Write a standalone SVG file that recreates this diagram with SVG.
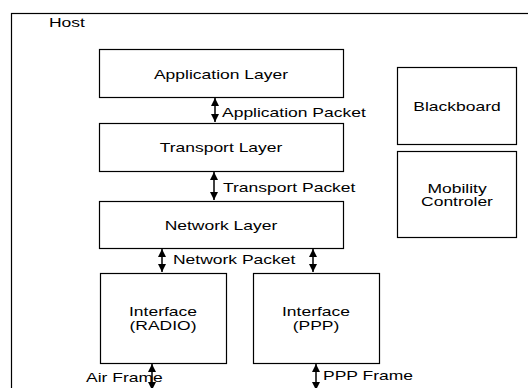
<svg xmlns="http://www.w3.org/2000/svg" width="528" height="388" viewBox="0 0 528 388">
<style>
.box{fill:#fff;stroke:#000;stroke-width:1.2}
.t{font-family:"Liberation Sans",Arial,sans-serif;font-size:12.5px;fill:#000}
.c{text-anchor:middle}
.conn{stroke:#000;stroke-width:1.5;fill:none;marker-start:url(#ah);marker-end:url(#ah)}
</style>
<defs>
<marker id="ah" viewBox="0 0 8 8" refX="8" refY="4" markerWidth="8" markerHeight="8" markerUnits="userSpaceOnUse" orient="auto-start-reverse">
<path d="M0,0 L8,4 L0,8 z" fill="#000"/>
</marker>
</defs>
<rect width="528" height="388" fill="#fff"/>
<g id="host">
<rect x="11.5" y="13.5" width="530" height="400" fill="none" stroke="#000" stroke-width="1.2"/>
<text class="t" transform="translate(49 27) scale(1.4 1)">Host</text>
</g>
<g id="connectors">
<line class="conn" x1="215" y1="98" x2="215" y2="122"/>
<line class="conn" x1="214" y1="172" x2="214" y2="200"/>
<line class="conn" x1="162" y1="249" x2="162" y2="272"/>
<line class="conn" x1="313" y1="249" x2="313" y2="272"/>
<line class="conn" x1="152" y1="364" x2="152" y2="390"/>
<line class="conn" x1="316" y1="364" x2="316" y2="390"/>
<text class="t" transform="translate(222 117) scale(1.4 1)">Application Packet</text>
<text class="t" transform="translate(223 192) scale(1.4 1)">Transport Packet</text>
<text class="t" transform="translate(173 264) scale(1.4 1)">Network Packet</text>
<text class="t" transform="translate(86 382) scale(1.4 1)">Air Frame</text>
<text class="t" transform="translate(323 380) scale(1.4 1)">PPP Frame</text>
</g>
<g id="application">
<rect class="box" x="99.5" y="49.5" width="244" height="48"/>
<text class="t c" transform="translate(221 79) scale(1.4 1)">Application Layer</text>
</g>
<g id="transport">
<rect class="box" x="99.5" y="123.5" width="244" height="48"/>
<text class="t c" transform="translate(221 152) scale(1.4 1)">Transport Layer</text>
</g>
<g id="network">
<rect class="box" x="99.5" y="201.5" width="244" height="47"/>
<text class="t c" transform="translate(221 230) scale(1.4 1)">Network Layer</text>
</g>
<g id="radio">
<rect class="box" x="100.5" y="273.5" width="126" height="90"/>
<text class="t c" transform="translate(163 316) scale(1.4 1)">Interface</text>
<text class="t c" transform="translate(163 330) scale(1.4 1)">(RADIO)</text>
</g>
<g id="ppp">
<rect class="box" x="253.5" y="273.5" width="126" height="90"/>
<text class="t c" transform="translate(316 316) scale(1.4 1)">Interface</text>
<text class="t c" transform="translate(316 330) scale(1.4 1)">(PPP)</text>
</g>
<g id="blackboard">
<rect class="box" x="397.5" y="67.5" width="119" height="77"/>
<text class="t c" transform="translate(457 111) scale(1.4 1)">Blackboard</text>
</g>
<g id="mobility">
<rect class="box" x="397.5" y="151.5" width="119" height="86"/>
<text class="t c" transform="translate(457 193) scale(1.4 1)">Mobility</text>
<text class="t c" transform="translate(457 206) scale(1.4 1)">Controler</text>
</g>
</svg>
